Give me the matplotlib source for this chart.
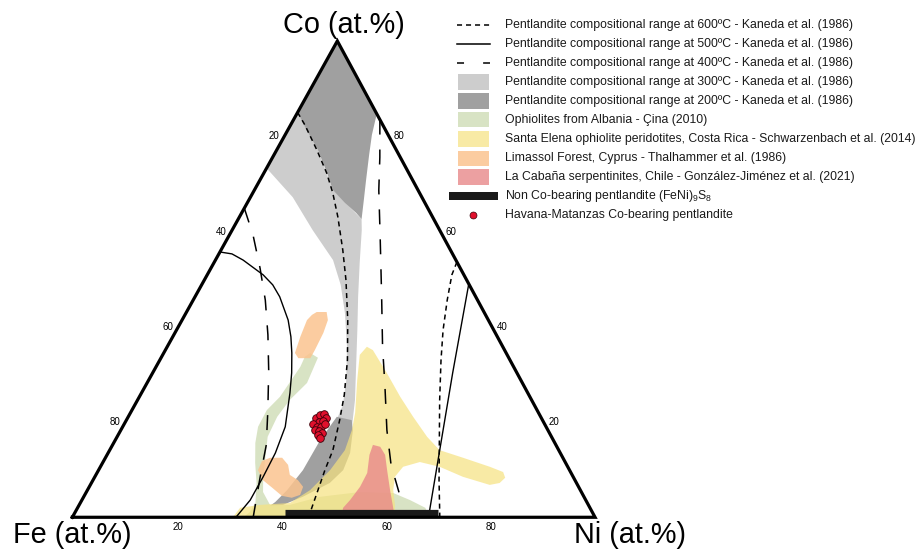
import numpy as np
import matplotlib.pyplot as plt
from matplotlib.lines import Line2D
from matplotlib.patches import Rectangle

plt.rcParams['font.family'] = ['Liberation Sans', 'DejaVu Sans']
plt.rcParams['mathtext.fontset'] = 'custom'
plt.rcParams['mathtext.rm'] = 'Liberation Sans'

# ---- compositions in at.% given as (Ni, Co); Fe = 100 - Ni - Co ----

# Kaneda et al. (1986) pentlandite fields
k200_top_ni = [0, 0, 3.6, 7.9, 11.9, 15.0, 18.7, 21.9, 23.6, 22.0, 20.3, 18.2, 16.6, 15.3]
k200_top_co = [100, 85, 81.3, 77.1, 72.5, 68.7, 66.0, 63.9, 62.6, 66.6, 70.8, 76.1, 80.3, 84.7]
k200_low_ni = [39.9, 39.2, 39.1, 38.2, 37.2, 36.6, 39.0, 41.9, 45.6, 46.8, 46.3, 44.4, 43.1]
k200_low_co = [21.1, 16.2, 9.9, 5.7, 3.2, 2.4, 2.6, 4.3, 7.2, 9.9, 13.5, 18.3, 20.4]
k300_ni = [0, 0, 8.1, 15.4, 22.5, 26.6, 30.4, 34.4, 37.8, 39.8, 40.2, 43.7, 41.6,
           38.6, 34.6, 31.2, 27.9, 24.8, 23.6, 15.0, 7.9]
k300_co = [85, 73.3, 67.2, 60.3, 54.0, 48.8, 42.9, 35.8, 28.8, 23.6, 20.4, 19.4, 24.6,
           30.9, 39.3, 46.3, 53.4, 60.3, 62.6, 68.7, 77.1]

# Kaneda et al. (1986) boundaries
k600_left_ni = [0, 2.7, 7.7, 12.0, 15.3, 18.8, 23.3, 27.1, 31.7, 35.9, 39.0, 40.8, 42.7, 43.3, 44.1, 44.9]
k600_left_co = [85, 82.4, 77.1, 72.3, 68.1, 63.1, 56.1, 49.8, 41.4, 33.0, 25.7, 20.4, 14.1, 9.9, 5.7, 1.5]
k600_right_ni = [46.4, 46.8, 48.6, 51.0, 53.8, 57.8, 62.0, 66.2, 70.3]
k600_right_co = [53.6, 50.9, 45.6, 39.3, 33.0, 24.6, 16.2, 7.8, 0]
k500_left_ni = [0, 2.5, 5.3, 10.7, 13.6, 16.2, 20.3, 22.6, 24.5, 26.6, 28.4, 31.1, 32.0, 32.2, 32.2, 31.3]
k500_left_co = [55.7, 55.3, 54.0, 50.9, 48.8, 46.3, 41.4, 37.9, 34.5, 30.3, 26.1, 19.0, 13.5, 8.5, 3.6, 0]
k500_right_ni = [51.0, 57.4, 67.6]
k500_right_co = [49.0, 30.3, 1.5]
k400_left_ni = [0, 4.5, 9.4, 13.8, 18.0, 21.9, 26.0, 29.4, 31.7, 34.6]
k400_left_co = [64.9, 59.3, 52.3, 45.6, 38.3, 30.9, 22.5, 15.2, 8.3, 0]
k400_right_ni = [16.5, 20.5, 23.8, 29.4, 35.7, 41.2, 45.7, 50.9, 55.4, 61.1]
k400_right_co = [83.5, 75.6, 68.7, 58.2, 46.3, 35.8, 27.8, 18.3, 11.0, 3.6]

# ophiolite pentlandite fields
albania_ni = [27.4, 28.0, 30.0, 30.6, 29.1, 28.5, 28.8, 30.8, 32.3, 33.8, 36.5, 40.3, 45.2,
              52.3, 58.8, 62.8, 66.5, 68.4, 32.7, 33.4, 33.5, 31.6, 29.2, 27.1, 25.9,
              25.8, 26.9, 27.6]
albania_co = [33.7, 34.5, 33.5, 28.2, 24.6, 21.1, 16.9, 12.0, 8.3, 5.3, 2.6, 2.6, 4.3,
              5.3, 5.1, 3.6, 2.0, 0, 0, 1.1, 3.0, 7.2, 11.4, 15.6, 19.0,
              22.5, 25.3, 31.6]
santa_elena_ni = [38.2, 39.7, 44.8, 49.9, 54.5, 59.3, 63.1, 68.4, 74.5, 77.6, 78.6, 78.1,
                  76.4, 70.4, 64.9, 60.6, 57.9, 57.4, 58.5, 60.4, 61.7, 30.7, 31.1, 34.6,
                  40.1, 42.6, 44.3, 45.0, 44.2, 43.0, 39.9, 37.7]
santa_elena_co = [35.8, 35.1, 30.3, 25.3, 21.1, 16.9, 14.1, 12.5, 10.6, 9.5, 8.3, 7.2,
                  6.8, 8.5, 10.6, 11.6, 10.6, 8.5, 5.7, 2.6, 0, 0, 2.0, 2.6,
                  3.0, 5.7, 9.9, 14.1, 18.3, 21.9, 28.8, 34.1]
limassol_a_ni = [24.3, 24.9, 26.8, 27.9, 28.4, 28.6, 28.6, 26.3, 25.1, 24.4, 23.9]
limassol_a_co = [42.5, 43.1, 43.1, 41.4, 38.7, 35.1, 33.4, 33.4, 34.5, 37.9, 41.4]
limassol_b_ni = [30.5, 30.3, 31.5, 33.8, 35.7, 37.1, 39.2, 40.9, 41.2, 39.9, 37.8, 35.1, 32.5]
limassol_b_co = [9.9, 11.8, 12.5, 12.5, 11.0, 8.9, 7.8, 6.4, 4.7, 4.1, 4.5, 6.2, 7.8]
cabana_ni = [49.8, 51.4, 53.2, 55.2, 57.9, 60.7, 61.5, 51.4, 50.8, 51.3, 51.8, 51.7, 50.2]
cabana_co = [15.2, 14.8, 13.1, 9.9, 5.7, 1.5, 0, 0, 2.0, 3.6, 6.4, 9.3, 13.1]

# (FeNi)9S8 without Co
feni_ni = [40.3, 69.5]
feni_co = [0.8, 0.8]

# Havana-Matanzas analyses
hm_ni = [36.0, 36.5, 37.2, 37.9, 37.1, 37.8, 36.1, 37.2, 38.0, 38.4, 37.1, 38.0, 38.8, 38.2, 39.0]
hm_co = [20.8, 21.5, 21.7, 20.8, 20.0, 20.2, 19.6, 19.0, 19.0, 19.6, 18.3, 18.1, 17.7, 17.3, 16.6]

ticks = [20, 40, 60, 80]

legend_labels = [
    'Pentlandite compositional range at 600ºC - Kaneda et al. (1986)',
    'Pentlandite compositional range at 500ºC - Kaneda et al. (1986)',
    'Pentlandite compositional range at 400ºC - Kaneda et al. (1986)',
    'Pentlandite compositional range at 300ºC - Kaneda et al. (1986)',
    'Pentlandite compositional range at 200ºC - Kaneda et al. (1986)',
    'Ophiolites from Albania - Çina (2010)',
    'Santa Elena ophiolite peridotites, Costa Rica - Schwarzenbach et al. (2014)',
    'Limassol Forest, Cyprus - Thalhammer et al. (1986)',
    'La Cabaña serpentinites, Chile - González-Jiménez et al. (2021)',
    r'Non Co-bearing pentlandite (FeNi)$_9$S$_8$',
    'Havana-Matanzas Co-bearing pentlandite',
]

# colours
C300 = '#cdcdcd'
C200 = '#a0a0a0'
GREEN = ('#cfdcb6', 0.8)
YELLOW = ('#f6e27f', 0.7)
ORANGE = ('#fbc48f', 0.85)
PINK = ('#e8888a', 0.8)
DOT = '#e0102d'

SHORT_DASH = (0, (3.3, 2.6))
LONG_DASH = (0, (9.8, 9.8))

SKEW = 0.507   # apex offset; the triangle is drawn a little taller than equilateral


def tern(ni, co):
    ni = np.asarray(ni, dtype=float)
    co = np.asarray(co, dtype=float)
    return ni + SKEW * co, co


fig = plt.figure(figsize=(9.2, 5.51), dpi=100)
ax = fig.add_axes([0.0786, 0.0612, 0.5682, 0.8644])
ax.set_xlim(0, 100)
ax.set_ylim(0, 100)
ax.axis('off')


def field(ni, co, color, alpha=1.0, z=1):
    x, y = tern(ni, co)
    ax.fill(x, y, facecolor=color, edgecolor='none', alpha=alpha, zorder=z)


def boundary(ni, co, ls, lw=1.1):
    x, y = tern(ni, co)
    ax.plot(x, y, color='k', lw=lw, ls=ls, dash_capstyle='butt', zorder=7)


field(k300_ni, k300_co, C300, z=1)
field(k200_top_ni, k200_top_co, C200, z=2)
field(k200_low_ni, k200_low_co, C200, z=2)
field(albania_ni, albania_co, GREEN[0], GREEN[1], z=3)
field(santa_elena_ni, santa_elena_co, YELLOW[0], YELLOW[1], z=4)
field(limassol_a_ni, limassol_a_co, ORANGE[0], ORANGE[1], z=5)
field(limassol_b_ni, limassol_b_co, ORANGE[0], ORANGE[1], z=5)
field(cabana_ni, cabana_co, PINK[0], PINK[1], z=6)

boundary(k600_left_ni, k600_left_co, SHORT_DASH)
boundary(k600_right_ni, k600_right_co, SHORT_DASH)
boundary(k500_left_ni, k500_left_co, '-', lw=1.0)
boundary(k500_right_ni, k500_right_co, '-', lw=1.0)
boundary(k400_left_ni, k400_left_co, LONG_DASH)
boundary(k400_right_ni, k400_right_co, LONG_DASH)

x, y = tern(feni_ni, feni_co)
ax.plot(x, y, color='#1a1a1a', lw=5.2, solid_capstyle='butt', zorder=8)

x, y = tern(hm_ni, hm_co)
ax.scatter(x, y, s=30, color=DOT, edgecolor='#3a0008', linewidth=0.6, zorder=9)

# triangle frame
x, y = tern([0, 100, 0, 0], [0, 0, 100, 0])
ax.plot(x, y, color='k', lw=2.3, solid_joinstyle='miter', clip_on=False, zorder=10)

# tick labels: Ni along the base, Fe on the left side, Co on the right side
for v in ticks:
    ax.annotate(str(v), tern(v, 0), xytext=(0.7, -7.2), textcoords='offset points',
                ha='center', va='center', fontsize=7)
    ax.annotate(str(v), tern(0, 100 - v), xytext=(-3.6, 0), textcoords='offset points',
                ha='right', va='center', fontsize=7)
    ax.annotate(str(v), tern(100 - v, v), xytext=(3.6, 0), textcoords='offset points',
                ha='left', va='center', fontsize=7)

ax.annotate('Co (at.%)', tern(0, 100), xytext=(4.7, 11.5), textcoords='offset points',
            ha='center', va='center', fontsize=20.8)
ax.annotate('Fe (at.%)', tern(0, 0), xytext=(0, -13), textcoords='offset points',
            ha='center', va='center', fontsize=20.8)
ax.annotate('Ni (at.%)', tern(100, 0), xytext=(24.8, -13), textcoords='offset points',
            ha='center', va='center', fontsize=20.8)


# legend, laid out in figure pixels
def fxy(px, py):
    return px / 920, 1 - py / 551


handles = [
    ('line', SHORT_DASH), ('line', '-'), ('line', (0, (4.6, 12.5))),
    ('patch', (C300, 1.0)), ('patch', (C200, 1.0)), ('patch', GREEN),
    ('patch', YELLOW), ('patch', ORANGE), ('patch', PINK),
    ('bar', None), ('dot', None),
]
for i, (label, (kind, style)) in enumerate(zip(legend_labels, handles)):
    py = 25 + 19 * i
    fx, fy = fxy(505, py)
    if kind == 'line':
        (x0, _), (x1, _) = fxy(457, py), fxy(490, py)
        fig.add_artist(Line2D([x0, x1], [fy, fy], transform=fig.transFigure,
                              color='k', lw=1.1, ls=style, dash_capstyle='butt'))
    elif kind == 'patch':
        x0, y0 = fxy(458, py + 7.5)
        fig.add_artist(Rectangle((x0, y0), 31 / 920, 15 / 551, transform=fig.transFigure,
                                 facecolor=style[0], alpha=style[1], edgecolor='none'))
    elif kind == 'bar':
        x0, y0 = fxy(449, py + 4)
        fig.add_artist(Rectangle((x0, y0), 49 / 920, 8 / 551, transform=fig.transFigure,
                                 facecolor='#1a1a1a', edgecolor='none'))
    else:
        x0, _ = fxy(473, py)
        fig.add_artist(Line2D([x0], [fy], transform=fig.transFigure, marker='o', ms=5,
                              mfc=DOT, mec='#3a0008', mew=0.5, ls='none'))
    fig.text(fx, fy, label, fontsize=8.85, ha='left', va='center', color='#1a1a1a')

fig.savefig('out.png', dpi=100)
